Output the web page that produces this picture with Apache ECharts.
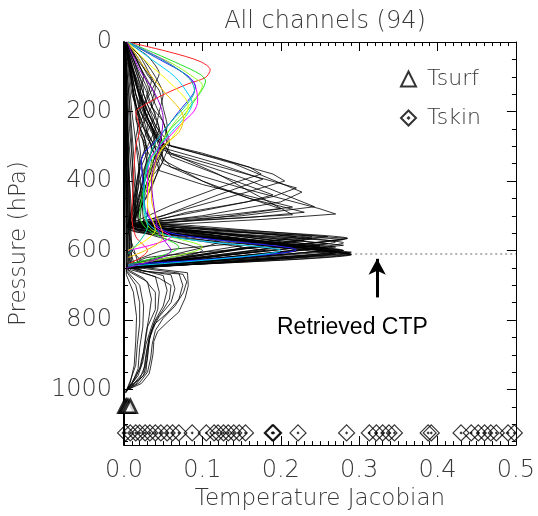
<!DOCTYPE html>
<html>
<head>
<meta charset="utf-8">
<title>All channels (94)</title>
<script src="https://cdn.jsdelivr.net/npm/echarts@6/dist/echarts.min.js"></script>
<style>
  html, body { margin: 0; padding: 0; background: #fff; }
  #chart { width: 538px; height: 516px; }
</style>
</head>
<body>
<div id="chart"></div>
<script>
// curves are [jacobian, pressure(hPa)] pairs
var colorCurves = [
  [[0.005,0],[0.06,30],[0.097,56],[0.11,80],[0.104,102],[0.081,121],[0.047,155],[0.022,187],[0.015,201],[0.02,250],[0.015,300],[0.012,400],[0.01,500],[0.015,560],[0.03,600],[0.005,640]],
  [[0.005,0],[0.038,31],[0.072,65],[0.097,93],[0.104,112],[0.1,136],[0.089,172],[0.076,212],[0.06,249],[0.043,305],[0.03,350],[0.025,420],[0.02,500],[0.03,540],[0.07,590],[0.005,640]],
  [[0.005,0],[0.03,30],[0.06,60],[0.088,100],[0.1,125],[0.095,150],[0.08,190],[0.065,230],[0.05,280],[0.038,330],[0.03,400],[0.025,480],[0.035,540],[0.1,590],[0.005,642]],
  [[0.005,0],[0.05,51],[0.081,99],[0.091,127],[0.094,170],[0.089,200],[0.076,229],[0.056,277],[0.034,333],[0.03,400],[0.03,480],[0.04,530],[0.06,560],[0.005,600]],
  [[0.005,0],[0.045,50],[0.08,95],[0.091,127],[0.088,150],[0.07,200],[0.047,268],[0.022,342],[0.025,420],[0.03,500],[0.06,550],[0.22,598],[0.005,640]],
  [[0.005,0],[0.035,50],[0.065,100],[0.082,150],[0.087,178],[0.08,210],[0.06,260],[0.045,300],[0.03,360],[0.025,450],[0.03,520],[0.06,560],[0.2,600],[0.005,645]],
  [[0.005,0],[0.03,60],[0.06,120],[0.082,183],[0.075,229],[0.06,280],[0.045,320],[0.035,380],[0.03,470],[0.04,540],[0.005,600]],
  [[0.005,0],[0.025,70],[0.05,140],[0.076,220],[0.07,260],[0.05,300],[0.04,350],[0.035,450],[0.05,560],[0.005,620]],
  [[0.005,0],[0.04,40],[0.07,80],[0.085,110],[0.09,140],[0.08,180],[0.06,230],[0.04,290],[0.03,350],[0.025,450],[0.03,530],[0.005,610]],
  [[0.004,0],[0.02,80],[0.04,150],[0.05,220],[0.045,300],[0.035,400],[0.04,500],[0.045,550],[0.06,600],[0.003,650]]
];
var curveColors = ['#ff2020', '#20e020', '#90ff20', '#ff00ff', '#2020ff', '#00d0ff', '#ffff00', '#f0c000', '#00c0a0', '#9000d0'];

var upperCurves = [
  [[0.002,0],[0.01,40],[0.02,90],[0.03,140],[0.025,190],[0.035,240],[0.04,290],[0.03,340],[0.02,400],[0.015,460],[0.01,525],[0.29,610],[0.005,648]],
  [[0.002,0],[0.015,50],[0.025,100],[0.02,150],[0.03,200],[0.045,260],[0.05,310],[0.04,360],[0.03,420],[0.02,480],[0.008,530],[0.28,600],[0.004,645]],
  [[0.003,0],[0.02,40],[0.03,80],[0.04,130],[0.035,180],[0.05,230],[0.055,280],[0.045,330],[0.03,380],[0.02,450],[0.01,520],[0.27,575],[0.005,640]],
  [[0.002,0],[0.008,60],[0.015,110],[0.02,170],[0.015,220],[0.025,270],[0.03,320],[0.025,380],[0.02,440],[0.012,510],[0.285,565],[0.03,620],[0.003,650]],
  [[0.001,0],[0.012,30],[0.02,70],[0.03,110],[0.04,160],[0.03,210],[0.02,260],[0.03,310],[0.02,370],[0.015,440],[0.006,527],[0.25,590],[0.004,640]],
  [[0.002,0],[0.025,50],[0.04,100],[0.05,150],[0.045,200],[0.04,250],[0.03,300],[0.02,350],[0.018,420],[0.01,500],[0.005,530],[0.22,600],[0.003,646]],
  [[0.001,0],[0.006,50],[0.01,100],[0.012,160],[0.02,220],[0.015,280],[0.02,340],[0.015,420],[0.01,480],[0.004,535],[0.2,585],[0.003,642]],
  [[0.002,0],[0.018,45],[0.03,95],[0.045,140],[0.05,190],[0.055,240],[0.05,290],[0.04,345],[0.03,400],[0.02,470],[0.012,525],[0.265,608],[0.006,650]],
  [[0.001,0],[0.01,70],[0.02,130],[0.025,190],[0.035,250],[0.04,310],[0.035,370],[0.025,430],[0.015,500],[0.008,540],[0.29,612],[0.004,648]],
  [[0.003,0],[0.03,40],[0.045,90],[0.035,140],[0.025,190],[0.035,240],[0.045,290],[0.05,340],[0.035,390],[0.02,460],[0.01,525],[0.24,560],[0.05,600],[0.003,640]],
  [[0.001,0],[0.008,40],[0.015,80],[0.022,130],[0.03,180],[0.042,230],[0.048,280],[0.04,330],[0.025,400],[0.01,500],[0.004,530],[0.15,590],[0.003,645]],
  [[0.002,0],[0.02,60],[0.035,110],[0.03,160],[0.04,210],[0.03,260],[0.035,310],[0.028,360],[0.02,440],[0.01,520],[0.12,575],[0.003,640]],
  [[0.001,0],[0.005,40],[0.012,90],[0.018,140],[0.028,190],[0.02,240],[0.028,290],[0.022,340],[0.015,420],[0.008,530],[0.26,595],[0.004,648]],
  [[0.002,0],[0.012,50],[0.02,100],[0.03,150],[0.038,200],[0.045,250],[0.035,300],[0.045,350],[0.035,420],[0.015,500],[0.006,528],[0.28,578],[0.004,646]],
  [[0.001,0],[0.01,40],[0.018,90],[0.025,140],[0.02,190],[0.03,240],[0.025,290],[0.035,340],[0.03,400],[0.02,470],[0.01,530],[0.1,600],[0.003,650]],
  [[0.002,0],[0.016,50],[0.028,110],[0.038,170],[0.05,230],[0.058,290],[0.05,340],[0.04,390],[0.025,460],[0.012,525],[0.27,602],[0.005,650]]
];

var midCurves = [
  [[0.002,0],[0.01,100],[0.02,200],[0.05,305],[0.12,350],[0.177,395],[0.12,440],[0.05,500],[0.01,525],[0.28,568],[0.004,648]],
  [[0.002,0],[0.012,100],[0.025,200],[0.045,290],[0.14,350],[0.227,432],[0.2,460],[0.1,500],[0.01,525],[0.27,590],[0.005,650]],
  [[0.002,0],[0.015,120],[0.03,220],[0.055,320],[0.15,390],[0.243,474],[0.15,500],[0.005,522],[0.287,610],[0.005,652]],
  [[0.002,0],[0.01,120],[0.02,230],[0.04,300],[0.12,380],[0.215,497],[0.1,512],[0.01,528],[0.26,580],[0.004,646]],
  [[0.002,0],[0.02,150],[0.04,250],[0.06,330],[0.13,390],[0.19,440],[0.157,460],[0.08,490],[0.015,530],[0.23,570],[0.005,640]],
  [[0.002,0],[0.015,150],[0.03,260],[0.05,350],[0.12,420],[0.2,480],[0.12,505],[0.01,530],[0.275,598],[0.004,647]],
  [[0.003,0],[0.02,120],[0.04,240],[0.06,300],[0.12,335],[0.19,380],[0.205,400],[0.16,430],[0.08,480],[0.01,525],[0.25,585],[0.003,645]],
  [[0.002,0],[0.01,150],[0.03,280],[0.06,360],[0.15,420],[0.25,480],[0.27,495],[0.18,510],[0.02,530],[0.29,605],[0.005,648]],
  [[0.002,0],[0.015,150],[0.035,260],[0.045,290],[0.1,320],[0.16,360],[0.175,380],[0.12,420],[0.06,470],[0.008,523],[0.285,565],[0.005,645]],
  [[0.002,0],[0.02,160],[0.04,270],[0.05,340],[0.1,400],[0.16,450],[0.23,490],[0.16,505],[0.005,525],[0.28,600],[0.005,650]],
  [[0.002,0],[0.015,180],[0.035,300],[0.045,370],[0.1,410],[0.18,455],[0.215,475],[0.14,495],[0.03,518],[0.26,560],[0.005,645]],
  [[0.002,0],[0.02,140],[0.045,280],[0.06,320],[0.14,370],[0.22,420],[0.19,445],[0.09,490],[0.02,520],[0.2,575],[0.004,645]]
];

var spikeCurves = [
  [[0.001,0],[0.006,150],[0.01,300],[0.012,450],[0.02,530],[0.288,608],[0.005,652]],
  [[0.001,0],[0.008,200],[0.015,400],[0.02,535],[0.26,600],[0.004,650]],
  [[0.002,0],[0.01,200],[0.02,380],[0.025,520],[0.24,565],[0.005,645]],
  [[0.001,0],[0.005,250],[0.012,450],[0.015,540],[0.27,610],[0.004,652]],
  [[0.002,0],[0.012,150],[0.03,350],[0.03,500],[0.02,528],[0.28,585],[0.005,648]],
  [[0.001,0],[0.004,300],[0.01,500],[0.012,545],[0.18,600],[0.003,648]],
  [[0.001,0],[0.007,250],[0.015,450],[0.015,530],[0.29,612],[0.006,652]],
  [[0.002,0],[0.015,200],[0.025,400],[0.02,525],[0.22,560],[0.004,640]]
];

var lowerCurves = [
  [[0.001,0],[0.004,200],[0.006,400],[0.008,520],[0.01,600],[0.03,650],[0.081,664],[0.082,701],[0.078,737],[0.07,777],[0.056,805],[0.043,833],[0.038,862],[0.037,898],[0.034,935],[0.032,955],[0.022,983],[0.005,1000]],
  [[0.001,0],[0.003,300],[0.006,550],[0.02,650],[0.07,665],[0.075,700],[0.07,740],[0.055,780],[0.04,810],[0.033,850],[0.03,900],[0.028,950],[0.015,985],[0.003,1000]],
  [[0.001,0],[0.005,300],[0.008,600],[0.015,655],[0.06,670],[0.065,710],[0.06,750],[0.045,790],[0.035,830],[0.03,880],[0.027,930],[0.02,970],[0.005,995]],
  [[0.002,0],[0.01,650],[0.05,672],[0.055,715],[0.05,760],[0.04,800],[0.032,850],[0.028,900],[0.025,950],[0.01,990]],
  [[0.001,0],[0.008,655],[0.04,675],[0.045,720],[0.043,770],[0.035,820],[0.028,870],[0.024,920],[0.018,960],[0.004,1000]],
  [[0.002,0],[0.006,660],[0.03,690],[0.035,740],[0.032,790],[0.028,840],[0.025,890],[0.02,940],[0.01,980],[0.002,1005]],
  [[0.001,0],[0.004,660],[0.02,700],[0.025,760],[0.024,820],[0.02,880],[0.018,940],[0.01,985],[0.002,1010]],
  [[0.001,0],[0.003,670],[0.012,720],[0.016,790],[0.015,860],[0.013,930],[0.008,980],[0.002,1010]],
  [[0.001,0],[0.003,400],[0.008,640],[0.025,660],[0.075,668],[0.08,690],[0.076,720],[0.065,760],[0.05,795],[0.04,830],[0.036,870],[0.034,910],[0.03,950],[0.02,980],[0.004,1002]],
  [[0.001,0],[0.004,600],[0.01,652],[0.045,680],[0.06,700],[0.058,740],[0.05,770],[0.038,810],[0.032,860],[0.03,910],[0.025,960],[0.006,998]],
  [[0.001,0],[0.005,655],[0.025,680],[0.04,720],[0.04,770],[0.03,820],[0.026,880],[0.022,930],[0.014,970],[0.003,1005]],
  [[0.001,0],[0.003,660],[0.015,700],[0.02,750],[0.02,810],[0.017,870],[0.015,930],[0.008,975],[0.002,1008]]
];

var tsurfX = [0.001, 0.003, 0.005, 0.008];
var tsurfP = 1048;
var tskinX = [0.002, 0.008, 0.015, 0.02, 0.027, 0.033, 0.04, 0.047, 0.055, 0.062, 0.07,
  0.087, 0.105, 0.115, 0.12, 0.127, 0.133, 0.14, 0.147, 0.155,
  0.189, 0.19, 0.191, 0.222, 0.284, 0.313, 0.322, 0.33, 0.338, 0.345,
  0.388, 0.392, 0.43, 0.443, 0.452, 0.46, 0.468, 0.475, 0.49, 0.498];
var tskinP = 1125;
var ctp = 610;          // retrieved cloud top pressure
var arrowX = 0.323;
var arrowFrom = 735;

var chart = echarts.init(document.getElementById('chart'));

var textColor = '#383838';
var axisFont = { fontFamily: 'DejaVu Sans', fontSize: 24, fontWeight: 200, color: textColor };
var series = [];

function addCurves(list, colorFn, opacity, smooth) {
  list.forEach(function (c, i) {
    series.push({
      type: 'line',
      data: c,
      symbol: 'none',
      silent: true,
      smooth: smooth,
      lineStyle: { width: 1, color: colorFn(i), opacity: opacity }
    });
  });
}
var black = function () { return '#000'; };
addCurves(lowerCurves, black, 0.8, false);
addCurves(spikeCurves, black, 0.8, false);
addCurves(midCurves, black, 0.8, false);
addCurves(upperCurves, black, 0.8, 0.2);
addCurves(colorCurves, function (i) { return curveColors[i]; }, 1, 0.3);

// CTP dotted line and arrow
series.push({
  type: 'line',
  data: [],
  markLine: {
    silent: true,
    animation: false,
    label: { show: false },
    data: [
      [{ coord: [0.295, ctp], symbol: 'none', lineStyle: { color: '#999', type: [2, 3], width: 1.5 } },
       { coord: [0.5, ctp], symbol: 'none' }],
      [{ coord: [arrowX, arrowFrom], symbol: 'none', lineStyle: { color: '#000', type: 'solid', width: 3 } },
       { coord: [arrowX, ctp + 14], symbol: 'arrow', symbolSize: [13, 16] }]
    ]
  }
});

series.push({
  name: 'Tsurf',
  type: 'scatter',
  data: tsurfX.map(function (x) { return [x, tsurfP]; }),
  symbol: 'triangle',
  symbolSize: 13,
  itemStyle: { color: '#fff', borderColor: '#000', borderWidth: 2.5 }
});
series.push({
  name: 'Tskin',
  type: 'scatter',
  data: tskinX.map(function (x) { return [x, tskinP]; }),
  symbol: 'path://M0,-10 L10,0 L0,10 L-10,0 Z M0,-0.9 L0.9,0 L0,0.9 L-0.9,0 Z',
  symbolSize: 16,
  itemStyle: { color: 'rgba(255,255,255,0)', borderColor: '#000', borderWidth: 1.2 }
});

var tickStyle = { color: '#000' };
chart.setOption({
  animation: false,
  backgroundColor: '#fff',
  title: {
    text: 'All channels (94)',
    left: 320,
    textAlign: 'center',
    top: 5,
    textStyle: { fontFamily: 'DejaVu Sans', fontSize: 24, fontWeight: 200, color: textColor }
  },
  legend: {
    orient: 'vertical',
    left: 395,
    top: 63,
    itemGap: 17,
    itemWidth: 15,
    itemHeight: 15,
    data: ['Tsurf', 'Tskin'],
    textStyle: { fontFamily: 'DejaVu Sans', fontSize: 22, fontWeight: 200, color: textColor, padding: [0, 0, 0, 6] }
  },
  grid: { left: 123, right: 20, top: 42, bottom: 64 },
  xAxis: [
    {
      type: 'value', min: 0, max: 0.5, interval: 0.1,
      name: 'Temperature Jacobian', nameLocation: 'middle', nameGap: 32,
      nameTextStyle: { fontFamily: 'DejaVu Sans', fontSize: 23, fontWeight: 200, color: textColor },
      axisLine: { onZero: false, lineStyle: { color: '#000', width: 1 } },
      axisTick: { inside: true, length: 9, lineStyle: tickStyle },
      minorTick: { show: true, splitNumber: 10, length: 4, lineStyle: tickStyle },
      axisLabel: Object.assign({ margin: 14, formatter: function (v) { return v.toFixed(1); } }, axisFont),
      splitLine: { show: false }
    },
    {
      type: 'value', min: 0, max: 0.5, interval: 0.1, position: 'top',
      axisLine: { onZero: false, lineStyle: { color: '#000', width: 1 } },
      axisTick: { inside: true, length: 9, lineStyle: tickStyle },
      minorTick: { show: true, splitNumber: 10, length: 4, lineStyle: tickStyle },
      axisLabel: { show: false },
      splitLine: { show: false }
    }
  ],
  yAxis: [
    {
      type: 'value', min: 0, max: 1160, interval: 200, inverse: true,
      name: 'Pressure (hPa)', nameLocation: 'middle', nameGap: 93, nameRotate: 90,
      nameTextStyle: { fontFamily: 'DejaVu Sans', fontSize: 23, fontWeight: 200, color: textColor },
      axisLine: { onZero: false, lineStyle: { color: '#000', width: 2 } },
      axisTick: { inside: true, length: 9, lineStyle: tickStyle },
      minorTick: { show: true, splitNumber: 4, length: 4, lineStyle: tickStyle },
      axisLabel: Object.assign({ margin: 12, showMaxLabel: false,
        formatter: function (v) { return v % 200 === 0 ? v : ''; } }, axisFont),
      splitLine: { show: false }
    },
    {
      type: 'value', min: 0, max: 1160, interval: 200, inverse: true, position: 'right',
      axisLine: { onZero: false, lineStyle: { color: '#000', width: 1 } },
      axisTick: { inside: true, length: 9, lineStyle: tickStyle },
      minorTick: { show: true, splitNumber: 4, length: 4, lineStyle: tickStyle },
      axisLabel: { show: false },
      splitLine: { show: false }
    }
  ],
  graphic: [
    {
      type: 'text',
      left: 277,
      top: 316,
      style: { text: 'Retrieved CTP', font: '23px "Liberation Sans", Arial, sans-serif', fill: '#000' }
    }
  ],
  series: series
});
</script>
</body>
</html>
